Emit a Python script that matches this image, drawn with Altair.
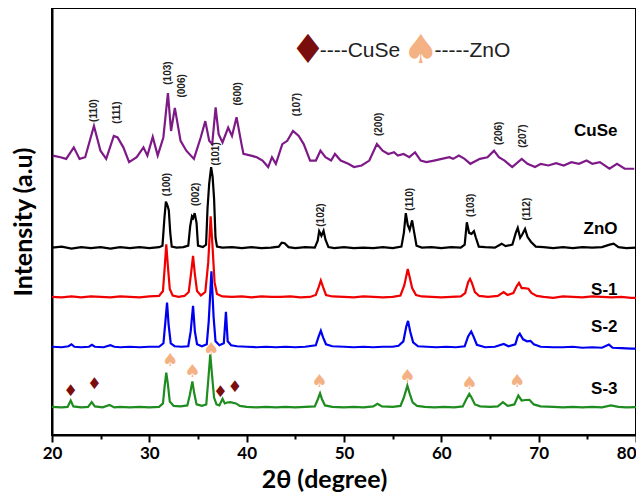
import altair as alt
import pandas as pd

# ---------------- data (2-theta in degrees, intensity in a.u., traces stacked) ----------------
cuse_tt = [20.08, 20.87, 21.46, 22.24, 22.83, 23.41, 24.31, 24.98, 25.57, 26.35, 26.74, 27.33, 27.92,
           28.70, 29.40, 29.80, 30.35, 30.86, 31.44, 31.91, 32.23, 32.62, 33.21, 33.80, 34.58, 35.28,
           35.75, 36.15, 36.46, 36.81, 37.12, 37.52, 38.10, 38.49, 38.96, 39.47, 39.67, 40.45, 41.04,
           41.63, 42.21, 42.60, 43.00, 43.66, 44.17, 44.76, 45.35, 45.86, 46.52, 47.11, 47.58, 48.09,
           48.68, 49.07, 49.66, 50.44, 51.03, 51.81, 52.60, 53.38, 53.97, 54.55, 55.14, 55.53, 56.12,
           56.71, 57.30, 57.88, 58.47, 59.25, 60.04, 60.82, 61.21, 61.80, 62.39, 62.98, 63.96, 64.74,
           65.41, 65.91, 66.50, 67.28, 68.26, 68.85, 69.63, 70.22, 71.00, 71.79, 72.57, 73.36, 74.14,
           74.92, 75.51, 76.29, 77.27, 78.05, 78.84, 79.82]
cuse_int = [283.3, 281.7, 280, 291.7, 280, 281.7, 313.3, 288.3, 280, 303.3, 301.7, 291.7, 276.7,
            281.7, 291.7, 283.3, 302.3, 283.3, 301.7, 346.7, 308.3, 331.7, 298.3, 288.3, 280, 301.7,
            318.3, 298.3, 295, 332.3, 305, 296.7, 311.7, 303.3, 322.3, 295, 285, 283.3, 281.7,
            278.3, 271.7, 281.7, 275, 295, 298.3, 308.3, 303.3, 295, 278.3, 278.3, 288.3, 281.7,
            278.3, 285, 278.3, 275, 271.7, 273.3, 278.3, 295, 288.3, 285, 286.7, 283.3, 285,
            281.7, 286.7, 278.3, 276.7, 278.3, 280, 281.7, 280, 283.3, 280, 275, 280, 281.7,
            288.3, 281.7, 278.3, 271.7, 280, 275, 271.7, 275, 273.3, 275.7, 273.3, 276.7, 275,
            278.3, 275, 276.7, 270, 275, 270, 270]

zno_tt = [20.0, 21.0, 22.0, 23.0, 24.0, 25.0, 26.0, 27.0, 28.0, 29.0, 30.0, 31.0, 31.35, 31.55, 31.70,
          31.85, 32.00, 32.15, 32.30, 32.8, 33.5, 34.00, 34.20, 34.38, 34.50, 34.66, 34.85, 35.00, 35.5,
          35.83, 35.98, 36.15, 36.35, 36.50, 36.65, 36.80, 36.95, 37.5, 38.5, 39.5, 40.5, 41.5, 42.5,
          43.3, 43.6, 43.9, 44.3, 45.0, 46.0, 47.0, 47.3, 47.45, 47.68, 47.90, 48.10, 48.40, 49.0,
          50.0, 51.0, 52.0, 53.0, 54.0, 55.0, 55.9, 56.15, 56.35, 56.55, 56.75, 57.00, 57.20, 57.45,
          58.0, 59.0, 60.0, 61.0, 62.0, 62.4, 62.62, 62.85, 63.1, 63.35, 63.55, 63.85, 64.5, 65.5,
          66.2, 66.6, 67.3, 67.65, 67.85, 68.10, 68.30, 68.60, 68.85, 69.2, 69.7, 70.5, 71.5, 72.5,
          73.5, 74.5, 75.5, 76.5, 77.3, 77.7, 78.2, 79.0, 80.0]
zno_int = [190, 191, 189, 190.5, 189.5, 190.5, 189, 190.5, 189.5, 190.5, 189.5, 190.5, 192, 220, 236.7,
           233, 228, 205, 191, 190, 190.5, 192, 212, 221.7, 220, 225, 215, 192, 190.5,
           193, 230, 255, 271.7, 262, 240, 200, 191, 190, 190.5, 189.5, 190.5, 189.5, 190,
           191, 195, 194.5, 190.5, 189.5, 190.5, 190, 197, 206.7, 202, 207, 198, 190.5, 189.5,
           190.5, 189.5, 190, 189.5, 190.5, 189.5, 191, 205, 225, 213, 208, 217.7, 206, 192,
           190, 190.5, 189.5, 190.5, 190, 193, 215.7, 205, 204, 206.7, 200, 191, 190.5, 190,
           194, 191.5, 193, 205, 210, 200, 203, 209, 201, 196, 191, 190.5, 189.5, 190.5,
           189.5, 190.5, 190, 190.5, 193, 194, 190.5, 189.5, 190]

s1_tt = [20, 21, 22, 23, 24, 25, 26, 27, 28, 29, 30, 31, 31.40, 31.58, 31.74, 31.90, 32.10, 32.40, 33.0,
         33.6, 34.05, 34.30, 34.49, 34.68, 34.90, 35.30, 35.75, 36.05, 36.30, 36.50, 36.70, 36.95, 37.5,
         38.5, 39.5, 40.5, 41.5, 42.5, 43.5, 44.5, 45.5, 46.5, 47.10, 47.40, 47.62, 47.85, 48.15, 48.8,
         50, 51, 52, 53, 54, 55, 55.8, 56.20, 56.55, 56.75, 57.00, 57.40, 58, 59, 60, 61, 62, 62.45,
         62.75, 62.95, 63.15, 63.45, 63.9, 64.8, 65.8, 66.40, 66.8, 67.40, 67.75, 67.98, 68.25, 68.50,
         68.95, 69.25, 69.8, 70.5, 71.5, 72.5, 73.5, 74.5, 75.5, 76.5, 77.5, 78.5, 79.5, 80]
s1_int = [140, 139.5, 140.5, 139.5, 140.5, 140, 139.5, 140.5, 140, 139.5, 140.5, 141, 146, 170, 193.3, 172,
          148, 141.5, 140, 141, 145, 165, 181.7, 163, 146, 141.5, 145, 175, 221.7, 190, 155, 143, 140.5,
          140, 140.5, 139.5, 140.5, 140, 140, 140.5, 139.5, 140, 142, 150, 156.7, 150, 142, 140.5,
          140, 139.5, 140.5, 140, 139.5, 140, 141.5, 152, 168.3, 160, 149, 142, 140.5, 140, 139.5, 140,
          140.5, 144, 155, 158.3, 154, 145, 141, 140, 141, 145, 142, 144, 151, 154.3, 149, 149,
          148.3, 144, 141, 140, 139, 140.5, 140, 139.5, 140.5, 140, 139.5, 140, 139, 139]

s2_tt = [20, 21, 21.7, 22.0, 22.3, 23, 23.8, 24.1, 24.4, 25.3, 26.0, 26.4, 27, 28, 29, 30, 31, 31.45,
         31.65, 31.82, 31.98, 32.20, 32.6, 33.3, 34.0, 34.25, 34.49, 34.68, 34.90, 35.4, 35.9, 36.10,
         36.38, 36.60, 36.80, 37.2, 37.65, 37.87, 38.05, 38.4, 39, 40, 41, 42, 43, 44, 45, 46, 47.10,
         47.40, 47.62, 47.85, 48.15, 48.8, 50, 51, 52, 53, 54, 55, 55.6, 56.1, 56.40, 56.58, 56.80,
         57.10, 57.6, 58.5, 59.5, 60.5, 61.5, 62.4, 62.75, 63.07, 63.30, 63.65, 64.5, 65.5, 66.41,
         66.9, 67.6, 67.85, 68.06, 68.40, 68.80, 69.16, 69.50, 70.2, 71.5, 72.5, 73.5, 74.5, 75.5,
         76.5, 77.22, 77.6, 78.5, 79.5, 80]
s2_int = [89.5, 89, 90, 92, 89.5, 89, 89.5, 91.5, 89.5, 89, 91, 89.5, 89, 89.5, 89, 89.5, 89.5, 93,
          115, 134.3, 112, 93, 90, 89.5, 90, 105, 131, 105, 92, 90, 92, 115,
          166, 120, 95, 91, 93, 125, 95, 91, 90, 89.5, 89, 89.5, 89, 89.5, 89, 89.5, 91,
          100, 105.7, 99, 92, 90, 89.5, 89, 89.5, 89, 89.5, 89.5, 90.5, 95, 110, 115.7, 105,
          94, 90, 89.5, 89, 89.5, 89, 90, 100, 105, 100, 91.5, 89, 89.5, 92.3,
          90, 92, 100, 102.7, 97, 95, 95.5, 92, 89.5, 89, 89, 89.5, 88.5, 89,
          88.5, 91.7, 88.5, 88, 87.5, 87.5]

s3_tt = [20, 21, 21.6, 21.92, 22.2, 23, 23.7, 24.08, 24.4, 25.2, 25.92, 26.4, 27, 28, 29, 30, 31, 31.40,
         31.58, 31.74, 31.90, 32.10, 32.5, 33.2, 33.9, 34.15, 34.42, 34.62, 34.85, 35.4, 35.85, 36.05,
         36.26, 36.45, 36.65, 36.9, 37.2, 37.52, 37.75, 38.0, 38.31, 38.90, 39.3, 40, 41, 42, 43, 44,
         45, 46, 47.0, 47.30, 47.54, 47.75, 48.05, 48.8, 50, 51, 52, 53, 53.44, 53.9, 55, 55.8, 56.15,
         56.51, 56.75, 57.05, 57.5, 58.3, 59.3, 60.3, 61.3, 62.2, 62.55, 62.87, 63.10, 63.45, 64, 65,
         65.8, 66.33, 66.8, 67.5, 67.91, 68.25, 68.65, 69.05, 69.5, 70.2, 71.5, 72.5, 73.5, 74.5, 75.5,
         76.5, 77.42, 78.2, 79, 80]
s3_int = [28.5, 28, 28.5, 35, 29, 28, 28.5, 33.3, 29, 28, 30.5, 28, 28.5, 28, 28.5, 28, 28.5, 32,
          50, 63.3, 52, 34, 29.5, 29, 30, 40, 54.3, 42, 31, 29.5, 31, 55,
          81.7, 60, 38, 31, 30, 36.7, 32, 33, 33.3, 32, 29.5, 28.5, 28, 28.5, 28, 28.5,
          28, 28.5, 29, 36, 42.3, 36, 30, 28.5, 28, 28.5, 28, 29, 31.7, 29, 28.5, 29.5, 38,
          50, 42, 33, 29.5, 28.5, 28, 28.5, 28, 29, 36, 41.7, 38, 31, 29, 28.5,
          29, 33.3, 29.5, 31, 40, 35, 35.5, 35.7, 31, 29, 28.5, 28, 28.5, 28, 28.5,
          28, 30, 28.5, 28, 28.3]

samples = ["CuSe", "ZnO", "S-1", "S-2", "S-3"]
sample_colors = ["#7E1A87", "#000000", "#F00000", "#0000F0", "#1E8C1E"]

# Miller-index labels
hkl_text = ["(110)", "(111)", "(103)", "(006)", "(600)", "(107)", "(200)", "(206)", "(207)",
            "(101)", "(100)", "(002)", "(102)", "(110)", "(103)", "(112)"]
hkl_tt = [24.27, 26.72, 31.90, 33.39, 39.09, 45.19, 53.63, 65.95, 68.38,
          36.87, 31.83, 34.77, 47.63, 56.79, 63.07, 68.78]
hkl_int = [329, 327, 367, 354, 346, 335, 315, 306, 303,
           285, 254, 244, 223, 239, 233, 229]

# Sample name labels
name_tt = [78.1, 78.1, 78.1, 78.1, 78.1]
name_int = [308, 209, 147, 110, 47]

# Phase markers on S-3
cuse_mark_tt = [21.91, 24.35, 37.3, 38.8]
cuse_mark_int = [45, 51.7, 43.3, 48.3]
zno_mark_tt = [32.14, 34.42, 36.34, 47.47, 56.50, 62.87, 67.79]
zno_mark_int = [75, 64.3, 86.7, 53.3, 59, 51.7, 53.3]

# Legend (top)
legend_sym = ["\u2666", "\u2660"]
legend_sym_tt = [46.3, 57.9]
legend_txt = ["----CuSe", "-----ZnO"]
legend_txt_tt = [47.5, 59.3]
legend_int = [389, 389]

# ---------------- build ----------------
frames = []
for name, tt, iv in [("CuSe", cuse_tt, cuse_int), ("ZnO", zno_tt, zno_int),
                     ("S-1", s1_tt, s1_int), ("S-2", s2_tt, s2_int), ("S-3", s3_tt, s3_int)]:
    frames.append(pd.DataFrame({"tt": tt, "intensity": iv, "sample": name}))
lines_df = pd.concat(frames, ignore_index=True)

x_scale = alt.Scale(domain=[20, 80], nice=False, zero=False)
y_scale = alt.Scale(domain=[0, 433], nice=False, zero=False)

x_axis = alt.Axis(
    values=list(range(20, 81, 5)),
    labelExpr="datum.value % 10 === 0 ? datum.label : ''",
    tickSize={"condition": {"test": "datum.value % 10 !== 0", "value": 4}, "value": 7},
    labelAlign={"condition": {"test": "datum.value === 80", "value": "right"}, "value": "center"},
    labelPadding=3, labelFontSize=17, grid=False,
    titleFontSize=25, titleX=272, titleY=32, titleBaseline="top", titleAlign="center",
)
y_axis = alt.Axis(labels=False, ticks=False, titlePadding=16, titleFontSize=25, grid=False)
X_TITLE = "2θ (degree)"
Y_TITLE = "Intensity (a.u)"


def xy(xf, yf):
    return dict(x=alt.X(xf, scale=x_scale, axis=x_axis, title=X_TITLE),
                y=alt.Y(yf, scale=y_scale, axis=y_axis, title=Y_TITLE))


lines = alt.Chart(lines_df).mark_line(strokeWidth=2.2, clip=True).encode(
    **xy("tt:Q", "intensity:Q"),
    color=alt.Color("sample:N", scale=alt.Scale(domain=samples, range=sample_colors), legend=None),
    detail="sample:N",
)

hkl_df = pd.DataFrame({"t": hkl_text, "tt": hkl_tt, "v": hkl_int})
hkl = alt.Chart(hkl_df).mark_text(angle=270, font="Liberation Sans", fontWeight="bold", fontSize=10,
                                  color="#222222", baseline="middle", align="center").encode(
    **xy("tt:Q", "v:Q"), text="t:N")

names_df = pd.DataFrame({"t": samples, "tt": name_tt, "v": name_int})
names = alt.Chart(names_df).mark_text(font="Liberation Sans", fontWeight="bold", fontSize=17,
                                      color="black", align="right", baseline="middle").encode(
    **xy("tt:Q", "v:Q"), text="t:N")

dia_df = pd.DataFrame({"tt": cuse_mark_tt, "v": cuse_mark_int, "t": ["\u2666"] * len(cuse_mark_tt)})
dia = alt.Chart(dia_df).mark_text(font="DejaVu Sans", fontSize=16, color="#7A0E0E",
                                  baseline="middle", align="center").encode(
    **xy("tt:Q", "v:Q"), text="t:N")

spd_df = pd.DataFrame({"tt": zno_mark_tt, "v": zno_mark_int, "t": ["\u2660"] * len(zno_mark_tt)})
spd = alt.Chart(spd_df).mark_text(font="DejaVu Sans", fontSize=18, color="#F4B183",
                                  baseline="middle", align="center").encode(
    **xy("tt:Q", "v:Q"), text="t:N")

leg_sym_df = pd.DataFrame({"t": legend_sym, "tt": legend_sym_tt, "v": legend_int, "c": ["a", "b"]})
leg_sym = alt.Chart(leg_sym_df).mark_text(font="DejaVu Sans", fontSize=40, baseline="middle",
                                          align="center").encode(
    **xy("tt:Q", "v:Q"), text="t:N",
    color=alt.Color("c:N", scale=alt.Scale(domain=["a", "b"], range=["#7A0E0E", "#F4B183"]), legend=None))

leg_txt_df = pd.DataFrame({"t": legend_txt, "tt": legend_txt_tt, "v": legend_int})
leg_txt = alt.Chart(leg_txt_df).mark_text(font="Liberation Sans", fontSize=21, color="#222222",
                                          baseline="middle", align="left").encode(
    **xy("tt:Q", "v:Q"), text="t:N")

chart = alt.layer(lines, hkl, names, dia, spd, leg_sym, leg_txt).resolve_scale(color="independent").properties(
    width=584, height=427,
    autosize=alt.AutoSizeParams(type="none"),
    padding={"left": 44, "top": 0, "right": 0, "bottom": 61},
    background="white",
).configure_view(stroke="black", strokeWidth=2).configure_axis(
    domainColor="black", domainWidth=2, tickColor="black", tickWidth=2, grid=False,
    labelFont="Lato", labelFontWeight="bold", labelColor="black",
    titleFont="Lato", titleFontWeight="bold", titleColor="black",
)

chart.save("out.html", embed_options={"renderer": "svg", "actions": False})
